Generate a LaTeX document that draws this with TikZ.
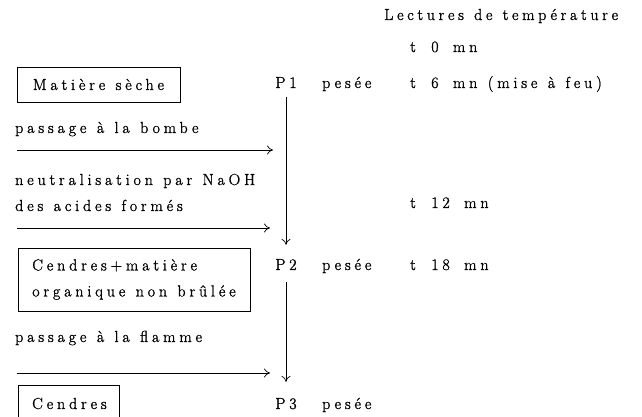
\documentclass[tikz,border=0pt]{standalone}
\usepackage{fontspec}
\setmainfont{Latin Modern Roman}[LetterSpace=24, WordSpace=1.2, FakeBold=1.3]
\usetikzlibrary{arrows.meta}
\begin{document}
\begin{tikzpicture}[x=1pt,y=1pt,
  every node/.style={font=\fontsize{16}{26}\selectfont},
  txt/.style={anchor=base west, inner sep=0pt},
  plab/.style={anchor=base, inner sep=0pt},
  box/.style={draw, line width=0.7pt, inner sep=0pt, align=left},
  conn/.style={line width=0.7pt, -{To[length=6pt,width=9pt]}}]
\useasboundingbox (0,0) rectangle (642,417);
\clip (0,0) rectangle (642,417);

% right column
\node[txt] (lect) at (384,397) {\addfontfeatures{LetterSpace=23}Lectures de température};
\node[txt] (t0) at (410,365) {t\hspace{5pt} 0\hspace{4pt} mn};
\node[txt] (t6) at (410,329) {t\hspace{5pt} 6\hspace{4pt} mn (mise à feu)};
\node[txt] (t12) at (410,209) {t\hspace{5pt} 12\hspace{4pt} mn};
\node[txt] (t18) at (410,147) {t\hspace{5pt} 18\hspace{4pt} mn};

% weighings
\node[plab] (P1) at (286,329) {P1};
\node[txt] (w1) at (322,329) {pesée};
\node[plab] (P2) at (286,147) {P2};
\node[txt] (w2) at (322,147) {pesée};
\node[plab] (P3) at (286,8) {P3};
\node[txt] (w3) at (322,8) {pesée};

% boxes
\node[box, minimum width=163, minimum height=35] (ms) at (98.5,332.5) {Matière sèche};
\node[box, minimum width=232, minimum height=63] (cm) at (134,137.5) {Cendres+matière\\organique non brûlée};
\node[txt] (ce) at (32,8) {Cendres};
\draw[line width=0.7pt] (18,-20) rectangle (119,32);

% step labels
\node[txt] (s1) at (15,284) {passage à la bombe};
\node[txt] (s2a) at (15,232) {neutralisation par NaOH};
\node[txt] (s2b) at (15,206) {des acides formés};
\node[txt] (s3) at (15,75) {passage à la flamme};

% horizontal arrows
\coordinate (h1s) at (17,267); \coordinate (h1e) at (273,267);
\coordinate (h2s) at (17,189); \coordinate (h2e) at (270,189);
\coordinate (h3s) at (17,44);  \coordinate (h3e) at (270,44);
\draw[conn] (h1s) -- (h1e);
\draw[conn] (h2s) -- (h2e);
\draw[conn] (h3s) -- (h3e);

% vertical arrows
\draw[conn, shorten <=9pt, shorten >=14pt] (P1.south) -- (P2.north);
\draw[conn, shorten <=12pt, shorten >=16pt] (P2.south) -- (P3.north);
\end{tikzpicture}
\end{document}
